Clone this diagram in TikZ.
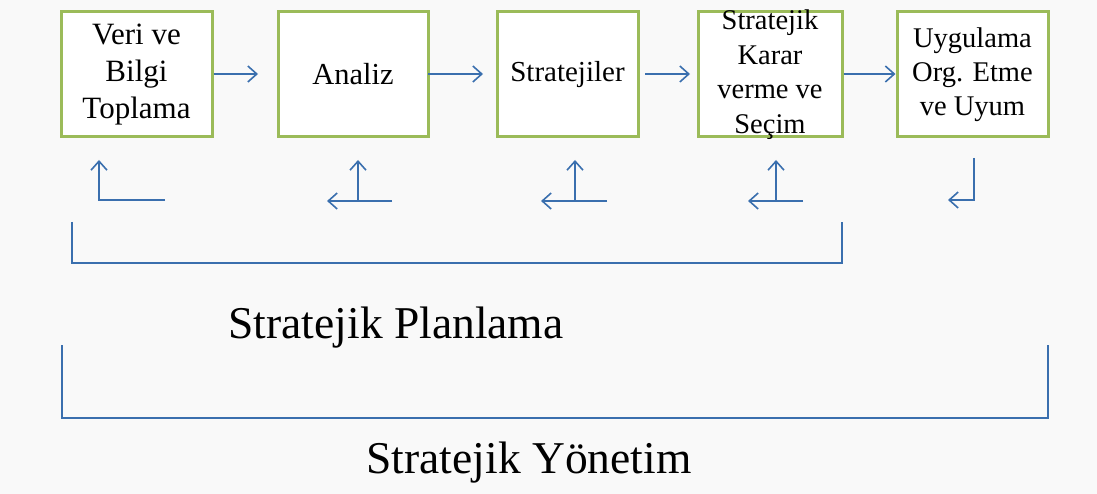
\documentclass[tikz,border=0pt]{standalone}
\usepackage{fontspec}
\setmainfont{Liberation Serif}
\usetikzlibrary{arrows.meta}
\definecolor{boxgreen}{HTML}{9BBB59}
\definecolor{flowblue}{HTML}{3A6FAE}
\definecolor{paper}{HTML}{F9F9F9}
\tikzset{
  stage/.style={draw=boxgreen, line width=3pt, fill=white, inner sep=0pt,
                minimum height=125pt, align=center, text=black},
  flow/.style={draw=flowblue, line width=1.6pt,
               -{Straight Barb[length=9pt,width=16pt,line width=1.6pt]}},
  brace/.style={draw=flowblue, line width=1.8pt},
  title/.style={font=\fontsize{45.5}{50}\selectfont, anchor=base}
}
\begin{document}
\begin{tikzpicture}[x=1pt, y=-1pt]
  \fill[paper] (0,0) rectangle (1097,494);
  \useasboundingbox (0,0) rectangle (1097,494);

  % process stages
  \node[stage, minimum width=151pt, font=\fontsize{31}{37}\selectfont] (s1) at (136.5,74.5) {Veri ve\\Bilgi\\Toplama};
  \node[stage, minimum width=150pt, font=\fontsize{30.5}{36}\selectfont] (s2) at (353,74.5) {Analiz};
  \node[stage, minimum width=141pt, font=\fontsize{29}{34}\selectfont] (s3) at (567.5,74.5) {Stratejiler};
  \node[stage, minimum width=144pt, inner ysep=-8pt, font=\fontsize{28.5}{34.5}\selectfont] (s4) at (770,74.5) {Stratejik\\Karar\\verme ve\\Seçim};
  \node[stage, minimum width=151pt, font=\fontsize{28.5}{34}\selectfont] (s5) at (972.5,74.5) {Uygulama\\Org. Etme\\ve Uyum};

  % forward arrows between stages
  \coordinate (a1) at (258,74);
  \coordinate (b2) at (428,74);  \coordinate (a2) at (483,74);
  \coordinate (b3) at (645,74);  \coordinate (a3) at (690,74);
  \draw[flow] (s1.east |- a1) -- (a1);
  \draw[flow] (b2) -- (a2);
  \draw[flow] (b3) -- (a3);
  \draw[flow] (s4.east |- a1) -- (s5.west |- a1);

  % feedback arrows below the stages
  \coordinate (f1e) at (165,200); \coordinate (f1t) at (99,160);
  \draw[flow] (f1e) -| (f1t);

  \coordinate (f2b) at (358,201); \coordinate (f2t) at (358,160);
  \coordinate (f2r) at (392,201); \coordinate (f2l) at (327,201);
  \draw[flow] (f2b) -- (f2t);
  \draw[flow] (f2r) -- (f2l);

  \coordinate (f3b) at (575,201); \coordinate (f3t) at (575,160);
  \coordinate (f3r) at (607,201); \coordinate (f3l) at (541,201);
  \draw[flow] (f3b) -- (f3t);
  \draw[flow] (f3r) -- (f3l);

  \coordinate (f4b) at (776,201); \coordinate (f4t) at (776,160);
  \coordinate (f4r) at (803,201); \coordinate (f4l) at (748,201);
  \draw[flow] (f4b) -- (f4t);
  \draw[flow] (f4r) -- (f4l);

  \coordinate (f5s) at (974,158); \coordinate (f5t) at (948,200);
  \draw[flow] (f5s) |- (f5t);

  % planning bracket
  \coordinate (p1) at (72,222);  \coordinate (p2) at (72,263);
  \coordinate (p3) at (842,263); \coordinate (p4) at (842,222);
  \draw[brace] (p1) -- (p2) -- (p3) -- (p4);
  \node[title] (plan) at (396,338) {Stratejik Planlama};

  % management bracket
  \coordinate (m1) at (62,345);   \coordinate (m2) at (62,418);
  \coordinate (m3) at (1048,418); \coordinate (m4) at (1048,345);
  \draw[brace] (m1) -- (m2) -- (m3) -- (m4);
  \node[title] (mgmt) at (529,473) {Stratejik Yönetim};
\end{tikzpicture}
\end{document}
